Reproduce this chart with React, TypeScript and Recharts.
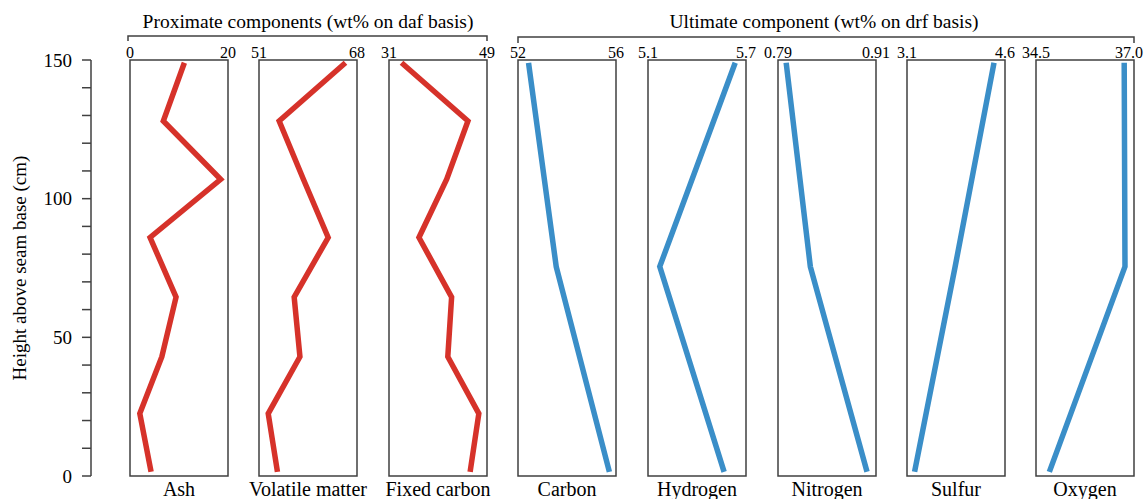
import React from 'react';
import { LineChart, Line, XAxis, YAxis, ReferenceArea } from 'recharts';

// ---- data ----
const heightsProx = [1.5, 22.5, 43, 64.5, 86, 107, 128, 149];
const heightsUlt = [1.5, 75.5, 149];

const ash = [4.3, 2.0, 6.5, 9.4, 4.1, 18.5, 6.8, 11.1];
const volatileMatter = [54.2, 52.6, 58.1, 57.1, 63.0, 58.7, 54.5, 66.0];
const fixedCarbon = [45.9, 47.5, 41.8, 42.5, 36.5, 41.6, 45.5, 33.3];

const carbon = [55.73, 53.56, 52.43];
const hydrogen = [5.566, 5.172, 5.634];
const nitrogen = [0.899, 0.8296, 0.8];
const sulfur = [3.216, 3.837, 4.432];
const oxygen = [34.84, 36.77, 36.75];

const panelNames = ['Ash', 'Volatile matter', 'Fixed carbon', 'Carbon', 'Hydrogen', 'Nitrogen', 'Sulfur', 'Oxygen'];
const panelDomains: number[][] = [
  [0, 20], [51, 68], [31, 49], [52, 56], [5.1, 5.7], [0.79, 0.91], [3.1, 4.6], [34.5, 37.0],
];
const panelTickLabels = [
  ['0', '20'], ['51', '68'], ['31', '49'], ['52', '56'], ['5.1', '5.7'], ['0.79', '0.91'], ['3.1', '4.6'], ['34.5', '37.0'],
];
const panelValues = [ash, volatileMatter, fixedCarbon, carbon, hydrogen, nitrogen, sulfur, oxygen];
const panelHeights = [heightsProx, heightsProx, heightsProx, heightsUlt, heightsUlt, heightsUlt, heightsUlt, heightsUlt];

const heightTicks = [0, 10, 20, 30, 40, 50, 60, 70, 80, 90, 100, 110, 120, 130, 140, 150];
const heightTickLabels = [0, 50, 100, 150];

const titleProx = 'Proximate components (wt% on daf basis)';
const titleUlt = 'Ultimate component (wt% on drf basis)';
const yTitle = 'Height above seam base (cm)';

// ---- layout / style ----
const FONT = '"Liberation Serif", "Times New Roman", serif';
const RED = '#d6322a';
const BLUE = '#3a8ec8';
const FRAME = '#404040';
const BOX_LEFT = [130, 259, 389, 518, 648, 778, 907, 1036];
const BOX_W = 98;
const TOP = 60;
const BOTTOM = 476;
const H = 499;
const PADX = 18;

function makeTick(i: number) {
  return (props: any) => {
    const { x, y, index } = props;
    const label = panelTickLabels[i][index];
    const isLastRight = i === panelNames.length - 1 && index === 1;
    return (
      <text
        x={isLastRight ? x + 9 : x}
        y={y}
        textAnchor={isLastRight ? 'end' : 'middle'}
        fontSize={16}
        fontFamily={FONT}
        fill="#000"
      >
        {label}
      </text>
    );
  };
}

function Panel({ i }: { i: number }) {
  const rows = panelHeights[i].map((h, k) => ({ h, v: panelValues[i][k] }));
  const dom = panelDomains[i];
  const color = i < 3 ? RED : BLUE;
  return (
    <div style={{ position: 'absolute', left: BOX_LEFT[i] - PADX, top: 0 }}>
      <LineChart
        width={BOX_W + 2 * PADX}
        height={H}
        data={rows}
        margin={{ top: 0, bottom: 0, left: PADX, right: PADX }}
      >
        <XAxis
          xAxisId="top"
          orientation="top"
          type="number"
          dataKey="v"
          domain={dom}
          ticks={dom}
          interval={0}
          allowDataOverflow
          height={TOP}
          tickSize={0}
          tickMargin={2}
          tickLine={false}
          axisLine={false}
          tick={makeTick(i)}
        />
        <XAxis
          xAxisId="bottom"
          orientation="bottom"
          type="number"
          dataKey="v"
          domain={dom}
          allowDataOverflow
          height={H - BOTTOM}
          tick={false}
          tickLine={false}
          axisLine={false}
          label={{ value: panelNames[i], position: 'insideBottom', offset: 3, fill: '#000', fontSize: 20, fontFamily: FONT }}
        />
        <YAxis yAxisId="l" type="number" domain={[0, 150]} width={0} hide />
        <ReferenceArea
          xAxisId="top"
          yAxisId="l"
          x1={dom[0]}
          x2={dom[1]}
          y1={0}
          y2={150}
          fill="none"
          fillOpacity={0}
          stroke={FRAME}
          strokeWidth={1.5}
          strokeOpacity={1}
          ifOverflow="visible"
        />
        <Line
          xAxisId="top"
          yAxisId="l"
          dataKey="h"
          stroke={color}
          strokeWidth={5.5}
          dot={false}
          activeDot={false}
          isAnimationActive={false}
        />
      </LineChart>
    </div>
  );
}

function HeightAxis() {
  const rows = heightsProx.map((h, k) => ({ h, v: ash[k] }));
  return (
    <div style={{ position: 'absolute', left: 0, top: 0 }}>
      <LineChart width={130} height={H} data={rows} margin={{ top: TOP, bottom: H - BOTTOM, left: 0, right: 0 }}>
        <XAxis hide type="number" dataKey="v" domain={[0, 20]} />
        <YAxis
          type="number"
          dataKey="h"
          domain={[0, 150]}
          ticks={heightTicks}
          interval={0}
          width={91}
          tickSize={9}
          tickMargin={10}
          axisLine={{ stroke: FRAME, strokeWidth: 1.5 }}
          tickLine={{ stroke: FRAME, strokeWidth: 1.5 }}
          tickFormatter={(v: number) => (heightTickLabels.includes(v) ? String(v) : '')}
          tick={{ fill: '#000', fontSize: 19, fontFamily: FONT }}
        />
      </LineChart>
    </div>
  );
}

export default function App() {
  return (
    <div
      style={{
        position: 'absolute',
        left: 0,
        top: 0,
        width: 1145,
        height: H,
        overflow: 'hidden',
        background: '#fff',
        fontFamily: FONT,
      }}
    >
      <HeightAxis />
      {panelNames.map((_n, i) => (
        <Panel key={i} i={i} />
      ))}
      <svg width={1145} height={H} style={{ position: 'absolute', left: 0, top: 0, pointerEvents: 'none' }}>
        <text x={308} y={28} textAnchor="middle" fontSize={19.5} fontFamily={FONT} fill="#000">
          {titleProx}
        </text>
        <path d="M128 41 V36 H487 V41" fill="none" stroke={FRAME} strokeWidth={1.5} />
        <text x={824} y={28} textAnchor="middle" fontSize={19.5} fontFamily={FONT} fill="#000">
          {titleUlt}
        </text>
        <path d="M518 43 V37 H1134 V43" fill="none" stroke={FRAME} strokeWidth={1.5} />
        <text
          transform="translate(26,268) rotate(-90)"
          textAnchor="middle"
          fontSize={19}
          fontFamily={FONT}
          fill="#000"
        >
          {yTitle}
        </text>
      </svg>
    </div>
  );
}
